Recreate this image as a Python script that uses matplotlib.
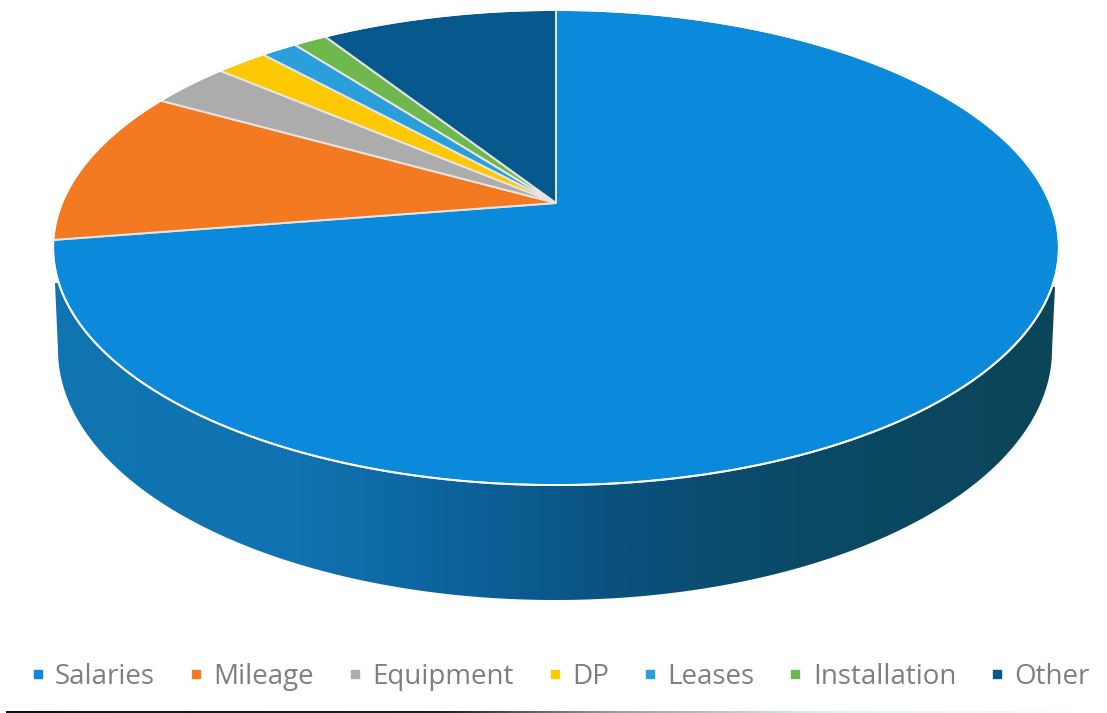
import numpy as np
import matplotlib
matplotlib.use("Agg")
import matplotlib.pyplot as plt
from matplotlib.colors import LinearSegmentedColormap
from matplotlib.lines import Line2D
from matplotlib.patches import Polygon

categories = ["Salaries", "Mileage", "Equipment", "DP", "Leases", "Installation", "Other"]
shares = [72.5, 10.6, 3.1, 2.0, 1.4, 1.3, 9.1]
slice_colors = ["#0b89da", "#f47a22", "#acacac", "#fdc903", "#2a9fdc", "#6eb84e", "#07588c"]

W, H = 1107, 713
plt.rcParams["font.family"] = ["Open Sans", "DejaVu Sans"]

# Perspective view of the pie's top disc, in figure pixels
APEX_X, APEX_Y = 556.0, 203.0
SCALE_X, SCALE_Y, TILT = 494.0, 229.2, 0.1874


def project(angle):
    """Clockwise angle from 12 o'clock -> picture position on the top rim."""
    u, v = np.sin(angle), np.cos(angle)
    w = 1 + TILT * v
    return APEX_X + SCALE_X * u / w, APEX_Y - SCALE_Y * v / w


fig = plt.figure(figsize=(W / 100, H / 100), dpi=100, facecolor="white")
ax = fig.add_axes([0, 0, 1, 1])
ax.set_xlim(0, W)
ax.set_ylim(H, 0)
ax.axis("off")

# Side wall: lower rim ellipse plus silhouette up to the top disc
SIDE_CX, SIDE_CY, SIDE_RX, SIDE_RY = 555.0, 350.0, 497.0, 250.0
t = np.linspace(np.pi, 0, 240)
side_x = SIDE_CX + SIDE_RX * np.cos(t)
side_y = SIDE_CY + SIDE_RY * np.sin(t)
side_pts = np.column_stack([
    np.r_[55, side_x, 1055],
    np.r_[283, side_y, 287],
])
side_patch = Polygon(side_pts, closed=True, facecolor="none", edgecolor="none")
ax.add_patch(side_patch)
side_cmap = LinearSegmentedColormap.from_list(
    "side",
    [(0.0, "#1175b2"), (0.25, "#1072b0"), (0.42, "#0c6199"),
     (0.55, "#0a5280"), (0.72, "#0a4a68"), (1.0, "#0b4558")],
)
grad = ax.imshow(np.linspace(0, 1, 512).reshape(1, -1), cmap=side_cmap,
                 extent=(50, 1060, 610, 270), aspect="auto", zorder=1)
grad.set_clip_path(side_patch)
ax.set_xlim(0, W)
ax.set_ylim(H, 0)

# Top disc wedges, clockwise from 12 o'clock
fractions = np.array(shares, dtype=float) / np.sum(shares)
edges = np.r_[0, np.cumsum(fractions)] * 2 * np.pi
for start, stop, color in zip(edges[:-1], edges[1:], slice_colors):
    a = np.linspace(start, stop, max(int((stop - start) * 120), 4))
    x, y = project(a)
    ax.fill(np.r_[APEX_X, x], np.r_[APEX_Y, y], facecolor=color,
            edgecolor="#e9e4e2", linewidth=1.4, joinstyle="round", zorder=2)

# White rim above the side wall; the rest of the rim stays clean
a = np.linspace(0, 2 * np.pi, 500)
rx, ry = project(a)
ax.plot(rx, ry, color="white", lw=1.4, zorder=2.5)

# Scanner line at the bottom of the page
line_cmap = LinearSegmentedColormap.from_list(
    "ln", [(0, "#111111"), (0.4, "#222222"), (0.55, "#9a9a9a"), (0.75, "#e8eeee"), (1, "#ffffff")])
ax.imshow(np.linspace(0, 1, 256).reshape(1, -1), cmap=line_cmap,
          extent=(6, W, 713, 711), aspect="auto", zorder=1)
ax.set_xlim(0, W)
ax.set_ylim(H, 0)

handles = [Line2D([], [], linestyle="none", marker="s", markersize=5.5,
                  color=c, label=n) for n, c in zip(categories, slice_colors)]
fig.legend(handles=handles, ncol=len(handles), loc="center",
           bbox_to_anchor=(560 / W, 1 - 677 / H), frameon=False,
           fontsize=20, labelcolor="#7f7f7f", handlelength=0.55,
           handletextpad=0.35, columnspacing=1.2, borderpad=0, borderaxespad=0)

fig.savefig("out.png", dpi=100, facecolor="white")
